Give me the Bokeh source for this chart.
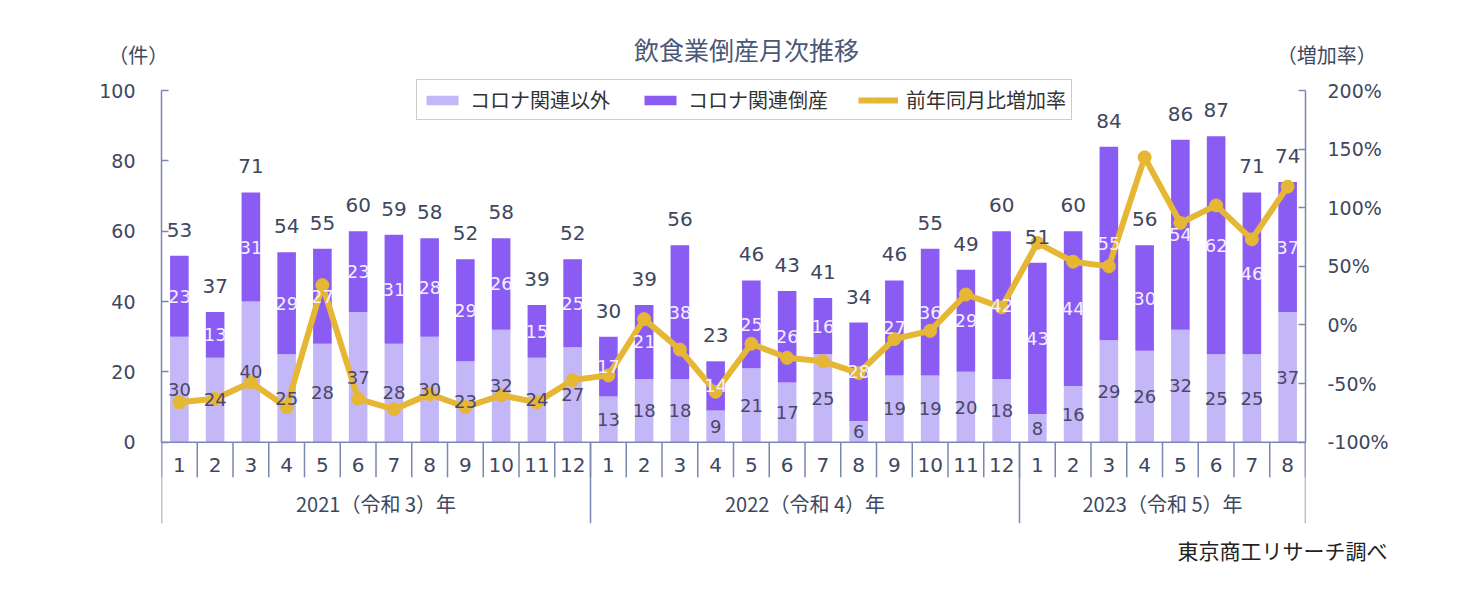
import numpy as np
from bokeh.plotting import figure
from bokeh.models import (ColumnDataSource, Range1d, LinearAxis, FixedTicker,
                          NumeralTickFormatter, Legend, LegendItem, Label, Title)
from bokeh.core.properties import value
from bokeh.embed import file_html
from bokeh.resources import INLINE

# ---------------- data ----------------
years = ["2021（令和 3）年", "2022（令和 4）年", "2023（令和 5）年"]
months_per_year = [12, 12, 8]
month_labels = ["1", "2", "3", "4", "5", "6", "7", "8", "9", "10", "11", "12",
                "1", "2", "3", "4", "5", "6", "7", "8", "9", "10", "11", "12",
                "1", "2", "3", "4", "5", "6", "7", "8"]
non_corona = [30, 24, 40, 25, 28, 37, 28, 30, 23, 32, 24, 27,
              13, 18, 18, 9, 21, 17, 25, 6, 19, 19, 20, 18,
              8, 16, 29, 26, 32, 25, 25, 37]
corona = [23, 13, 31, 29, 27, 23, 31, 28, 29, 26, 15, 25,
          17, 21, 38, 14, 25, 26, 16, 28, 27, 36, 29, 42,
          43, 44, 55, 30, 54, 62, 46, 37]
growth_pct = [-66, -63, -49, -70, 34, -63, -72, -59, -70, -60, -66, -47,
              -43, 5, -21, -57, -16, -28, -31, -41, -12, -5, 26, 15,
              70, 54, 50, 143, 87, 102, 73, 118]

series_names = ["コロナ関連以外", "コロナ関連倒産", "前年同月比増加率"]
title_text = "飲食業倒産月次推移"
left_unit = "（件）"
right_unit = "（増加率）"
source_text = "東京商工リサーチ調べ"
left_ticks = [0, 20, 40, 60, 80, 100]
right_ticks = [-1.0, -0.5, 0.0, 0.5, 1.0, 1.5, 2.0]

# ---------------- style ----------------
LIGHT = "#c4b7f7"
DARK = "#8a5cf4"
GOLD = "#e6b734"
AXIS = "#7b87b0"
TXT = "#3e4760"
NUM_FONT = "DejaVu Sans"
JP_FONT = "Noto Sans CJK JP"

# layout (pixels)
W, H = 1461, 589
FR_LEFT, FR_RIGHT = 161, 1305
FR_TOP, FR_BOTTOM = 37, 523
PX_PER_UNIT = 3.517           # left-axis pixels per count
ZERO_PX = 441.7
Y_MIN = -(FR_BOTTOM - ZERO_PX) / PX_PER_UNIT
Y_MAX = (ZERO_PX - FR_TOP) / PX_PER_UNIT

n = len(month_labels)
xc = np.arange(n) + 0.5
non_arr = np.array(non_corona, dtype=float)
cor_arr = np.array(corona, dtype=float)
total = non_arr + cor_arr

src = ColumnDataSource(dict(
    x=xc, non=non_arr, total=total,
    nonmid=non_arr / 2, cormid=non_arr + cor_arr / 2,
    non_s=[str(v) for v in non_corona], cor_s=[str(v) for v in corona],
    tot_s=[str(int(v)) for v in total],
    growth=np.array(growth_pct) / 100.0, month=month_labels,
))

p = figure(width=W, height=H, output_backend="svg", toolbar_location=None,
           x_range=Range1d(0, n), y_range=Range1d(Y_MIN, Y_MAX),
           x_axis_location=None, y_axis_location=None,
           min_border_left=FR_LEFT, min_border_right=W - FR_RIGHT,
           min_border_top=FR_TOP, min_border_bottom=H - FR_BOTTOM)
p.outline_line_color = None
p.xgrid.visible = False
p.ygrid.visible = False
# right axis: -100% at 0 count, 200% at 100 count
p.extra_y_ranges = {"rate": Range1d(-1 + Y_MIN * 0.03, -1 + Y_MAX * 0.03)}

def style_axis(ax):
    ax.axis_line_color = AXIS
    ax.axis_line_width = 1.5
    ax.major_tick_line_color = AXIS
    ax.major_tick_line_width = 1.5
    ax.major_tick_in = 7
    ax.major_tick_out = 0
    ax.minor_tick_line_color = None
    ax.major_label_text_font = NUM_FONT
    ax.major_label_text_font_size = "19px"
    ax.major_label_text_color = TXT
    ax.axis_label_text_font = JP_FONT
    ax.axis_label_text_font_size = "20px"
    ax.axis_label_text_font_style = "normal"
    ax.axis_label_text_color = TXT
    ax.axis_label_orientation = "horizontal"
    ax.axis_label_align = "end"

# unit captions sit at the top end of each axis (second line keeps them below the frame edge)
left = LinearAxis(ticker=FixedTicker(ticks=left_ticks), bounds=(0, 100),
                  axis_label="\n" + left_unit)
style_axis(left)
left.major_label_standoff = 26
left.axis_label_standoff = -72
p.add_layout(left, "left")

right = LinearAxis(y_range_name="rate", ticker=FixedTicker(ticks=right_ticks),
                   formatter=NumeralTickFormatter(format="0%"), bounds=(-1, 2),
                   axis_label="\n" + right_unit)
style_axis(right)
right.major_label_standoff = 22
right.axis_label_standoff = -115
p.add_layout(right, "right")

# bars
r_non = p.vbar(x="x", width=0.52, bottom=0, top="non", source=src,
               fill_color=LIGHT, line_color=None)
r_cor = p.vbar(x="x", width=0.52, bottom="non", top="total", source=src,
               fill_color=DARK, line_color=None)

# category axis decoration
bounds_m = np.arange(n + 1)
starts = np.concatenate([[0], np.cumsum(months_per_year)])
p.segment(x0=0, y0=0, x1=n, y1=0, line_color=AXIS, line_width=1.5)
p.segment(x0=bounds_m, y0=0, x1=bounds_m, y1=-10, line_color=AXIS, line_width=1.5)
p.segment(x0=starts, y0=0, x1=starts, y1=Y_MIN, line_color=AXIS, line_width=1.5)
p.text(x="x", y=-6.5, text="month", source=src, text_align="center",
       text_baseline="middle", text_font=value(NUM_FONT),
       text_font_size="20px", text_color=TXT)
year_centers = starts[:-1] + np.array(months_per_year) / 2
p.text(x=year_centers, y=-17.3, text=years, text_align="center",
       text_baseline="middle", text_font=value(JP_FONT),
       text_font_size="20px", text_color=TXT)

# growth line
r_line = p.line(x="x", y="growth", source=src, y_range_name="rate",
                line_color=GOLD, line_width=6, line_join="round")
r_dot = p.scatter(x="x", y="growth", source=src, y_range_name="rate",
                  size=13, fill_color=GOLD, line_color=GOLD)

# value labels
p.text(x="x", y="nonmid", text="non_s", source=src, text_align="center",
       text_baseline="middle", text_font=value(NUM_FONT),
       text_font_size="18px", text_color="#4a4868")
p.text(x="x", y="cormid", text="cor_s", source=src, text_align="center",
       text_baseline="middle", text_font=value(NUM_FONT),
       text_font_size="18px", text_color="#f3f0ff")
p.text(x="x", y="total", text="tot_s", source=src, text_align="center",
       text_baseline="middle", y_offset=-26, text_font=value(NUM_FONT),
       text_font_size="20px", text_color=TXT)

# legend
legend = Legend(items=[
    LegendItem(label=series_names[0], renderers=[r_non]),
    LegendItem(label=series_names[1], renderers=[r_cor]),
    LegendItem(label=series_names[2], renderers=[r_line, r_dot]),
], orientation="horizontal", location=(416 - FR_LEFT, FR_BOTTOM - 120))
legend.label_text_font = JP_FONT
legend.label_text_font_size = "20px"
legend.label_text_color = "#333333"
legend.glyph_width = 40
legend.glyph_height = 12
legend.label_height = 20
legend.label_standoff = 8
legend.spacing = 30
legend.padding = 5
legend.margin = 0
legend.border_line_color = "#9a9a9a"
legend.border_line_width = 1
legend.background_fill_color = "white"
legend.background_fill_alpha = 1
p.add_layout(legend)

# chart title inside the (extended) frame
p.add_layout(Label(x=746 - FR_LEFT, y=FR_BOTTOM - 48, x_units="screen", y_units="screen",
                   text=title_text, text_align="center", text_baseline="middle",
                   text_font=JP_FONT, text_font_size="25px", text_color="#4a5878"))

# source note below the frame
p.add_layout(Title(text=source_text, align="left", offset=1177 - FR_LEFT,
                   text_font=JP_FONT, text_font_size="21px", text_font_style="normal",
                   text_color="#222222", standoff=18), "below")

open("out.html", "w").write(file_html(p, INLINE))
